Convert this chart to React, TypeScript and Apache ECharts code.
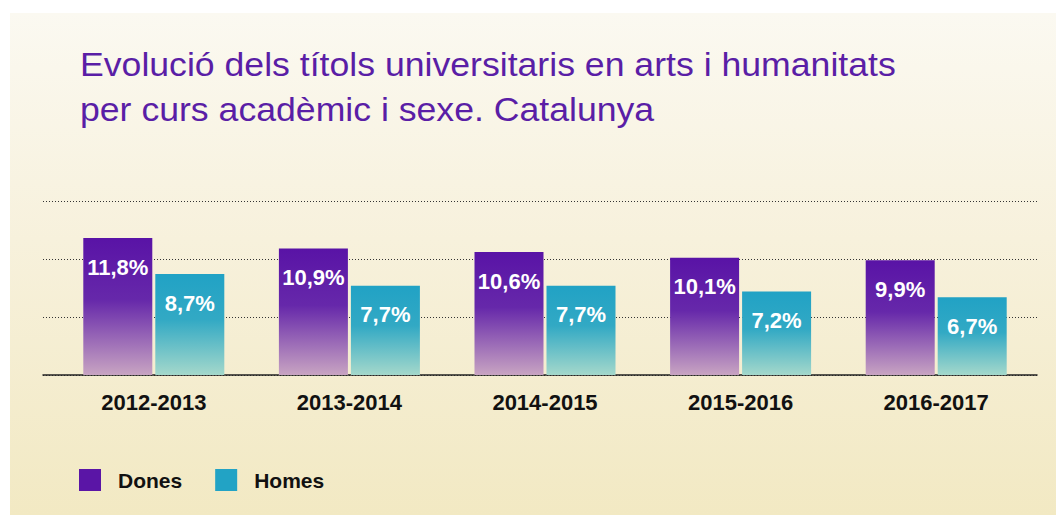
import React, { useEffect, useRef } from "react";
import * as echarts from "echarts";

const categories = ["2012-2013", "2013-2014", "2014-2015", "2015-2016", "2016-2017"];
const dones = [11.8, 10.9, 10.6, 10.1, 9.9];
const homes = [8.7, 7.7, 7.7, 7.2, 6.7];
const seriesNames = ["Dones", "Homes"];
const titleLines = [
  "Evolució dels títols universitaris en arts i humanitats",
  "per curs acadèmic i sexe. Catalunya",
];

const PURPLE = "#5a15a6";
const TEAL = "#22a3c5";

const fmt = (v: number) => v.toFixed(1).replace(".", ",") + "%";

export default function App() {
  const ref = useRef<HTMLDivElement>(null);
  useEffect(() => {
    if (!ref.current) return;
    const chart = echarts.init(ref.current, undefined, { renderer: "svg" });
    const grad = (stops: [number, string][]) =>
      new echarts.graphic.LinearGradient(
        0, 0, 0, 1,
        stops.map(([offset, color]) => ({ offset, color }))
      );
    const labelStyle = {
      show: true,
      position: "insideTop" as const,
      distance: 18,
      color: "#ffffff",
      fontSize: 22,
      fontWeight: "bold" as const,
      fontFamily: "Arial, 'Liberation Sans', sans-serif",
      formatter: (p: any) => fmt(p.value),
    };
    chart.setOption({
      animation: false,
      backgroundColor: "transparent",
      graphic: [
        {
          type: "text",
          left: 80,
          top: 42,
          scaleX: 1.08,
          style: {
            text: titleLines.join("\n"),
            fill: "#5a1ea6",
            fontSize: 33,
            fontWeight: "normal",
            lineHeight: 45,
            fontFamily: "Arial, 'Liberation Sans', sans-serif",
          },
        },
      ],
      legend: {
        left: 79,
        top: 469,
        padding: 0,
        itemWidth: 22,
        itemHeight: 22,
        itemGap: 33,
        icon: "rect",
        data: [
          { name: seriesNames[0], itemStyle: { color: PURPLE } },
          { name: seriesNames[1], itemStyle: { color: TEAL } },
        ],
        textStyle: {
          color: "#111",
          fontSize: 21,
          fontWeight: "bold",
          fontFamily: "Arial, 'Liberation Sans', sans-serif",
          padding: [0, 0, 0, 12],
        },
      },
      grid: [
        { left: 43, right: 19, top: 201, height: 174 },
        { left: 56, right: 22, top: 201, height: 174 },
      ],
      xAxis: [
        {
          type: "category",
          gridIndex: 0,
          data: categories,
          axisLine: { show: true, lineStyle: { color: "#222", width: 1.5 } },
          axisTick: { show: false },
          axisLabel: { show: false },
        },
        {
          type: "category",
          gridIndex: 1,
          data: categories,
          axisLine: { show: false },
          axisTick: { show: false },
          axisLabel: {
            margin: 16,
            color: "#111",
            fontSize: 22,
            fontWeight: "bold",
            fontFamily: "Arial, 'Liberation Sans', sans-serif",
          },
        },
      ],
      yAxis: [
        {
          type: "value",
          gridIndex: 0,
          min: 0,
          max: 15,
          interval: 5,
          axisLine: { show: false },
          axisTick: { show: false },
          axisLabel: { show: false },
          splitLine: { show: true, lineStyle: { color: "#333", width: 1, type: [1, 2] } },
        },
        {
          type: "value",
          gridIndex: 1,
          min: 0,
          max: 15,
          interval: 5,
          show: false,
          splitLine: { show: false },
        },
      ],
      series: [
        {
          name: seriesNames[0],
          type: "bar",
          xAxisIndex: 1,
          yAxisIndex: 1,
          data: dones,
          barWidth: 69,
          barGap: "4.35%",
          itemStyle: {
            color: grad([
              [0, "#5913a6"],
              [0.45, "#6628aa"],
              [1, "#c8a4c2"],
            ]),
          },
          label: labelStyle,
        },
        {
          name: seriesNames[1],
          type: "bar",
          xAxisIndex: 1,
          yAxisIndex: 1,
          data: homes,
          barWidth: 69,
          barGap: "4.35%",
          itemStyle: {
            color: grad([
              [0, "#21a2c5"],
              [0.45, "#32a9c4"],
              [1, "#a4d8cb"],
            ]),
          },
          label: labelStyle,
        },
      ],
    });
    return () => chart.dispose();
  }, []);

  return (
    <div style={{ position: "absolute", left: 0, top: 0, width: 1056, height: 515, background: "#fff" }}>
      <div
        style={{
          position: "absolute",
          left: 10,
          top: 13,
          width: 1046,
          height: 502,
          background: "linear-gradient(to bottom, #fbf9f1 0%, #f7f1dc 45%, #f2e9c3 100%)",
        }}
      />
      <div ref={ref} style={{ position: "absolute", left: 0, top: 0, width: 1056, height: 515 }} />
    </div>
  );
}
